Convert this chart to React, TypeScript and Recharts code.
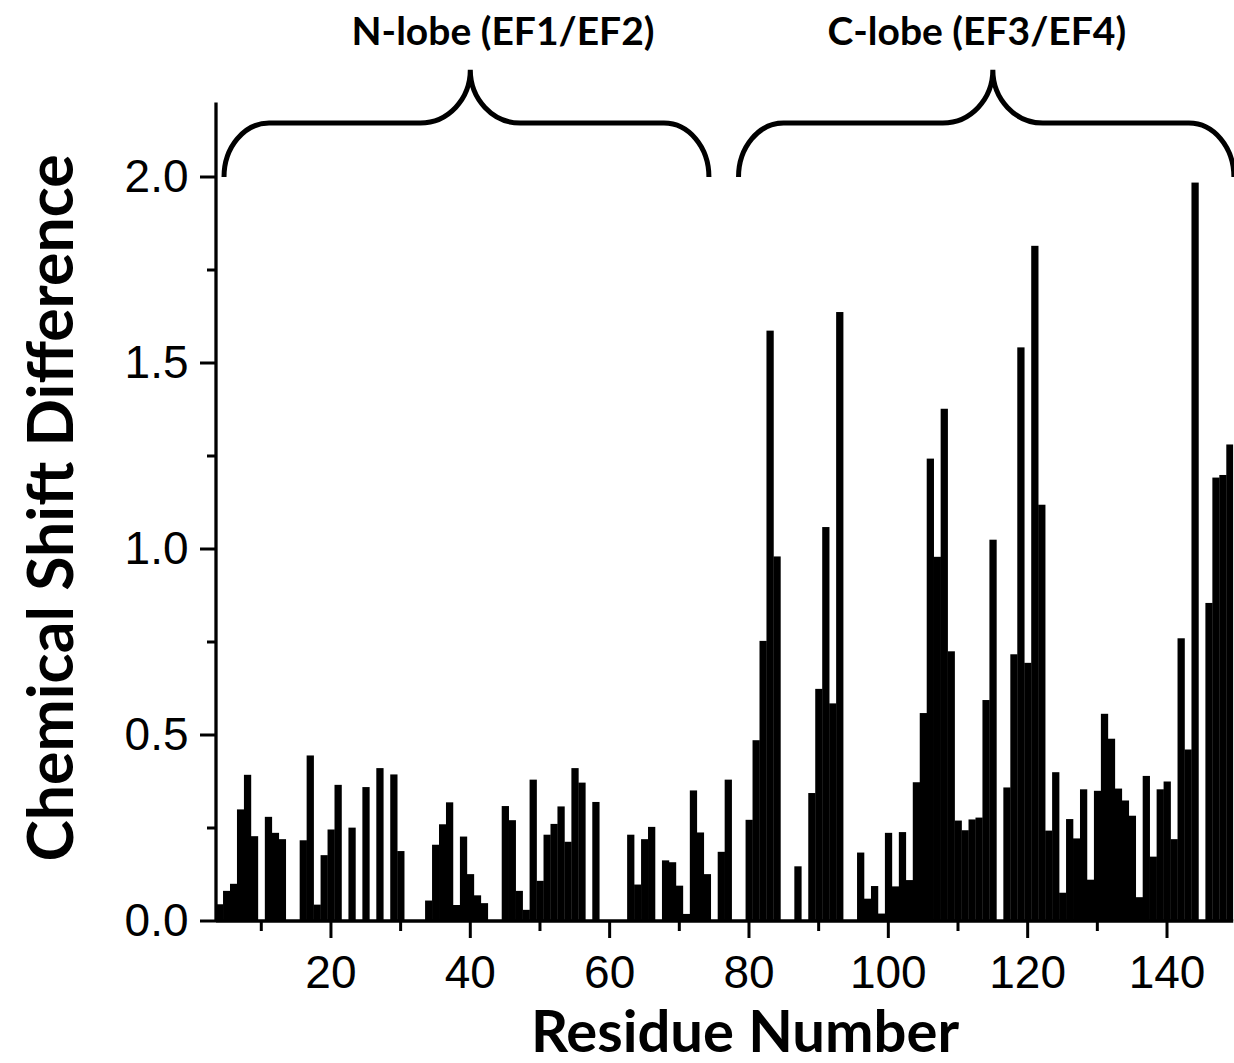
import { BarChart, Bar, XAxis, YAxis, Customized } from "recharts";

// residues with a measured shift (unassigned residues are simply absent)
const residues = [
  4, 5, 6, 7, 8, 9, 11, 12, 13, 16, 17, 18, 19, 20, 21, 23, 25, 27, 29, 30,
  34, 35, 36, 37, 38, 39, 40, 41, 42, 45, 46, 47, 48, 49, 50, 51, 52, 53, 54,
  55, 56, 58, 63, 64, 65, 66, 68, 69, 70, 71, 72, 73, 74, 76, 77,
  80, 81, 82, 83, 84, 87, 89, 90, 91, 92, 93, 96, 97, 98, 99, 100, 101, 102,
  103, 104, 105, 106, 107, 108, 109, 110, 111, 112, 113, 114, 115, 117, 118,
  119, 120, 121, 122, 123, 124, 125, 126, 127, 128, 129, 130, 131, 132, 133,
  134, 135, 136, 137, 138, 139, 140, 141, 142, 143, 144, 146, 147, 148, 149,
];

const shifts = [
  0.045, 0.081, 0.1, 0.3, 0.393, 0.228, 0.28, 0.237, 0.22, 0.217, 0.445, 0.044,
  0.177, 0.246, 0.366, 0.251, 0.36, 0.411, 0.394, 0.188,
  0.055, 0.205, 0.26, 0.319, 0.043, 0.227, 0.126, 0.069, 0.048, 0.309, 0.271,
  0.081, 0.03, 0.38, 0.108, 0.232, 0.261, 0.308, 0.213,
  0.411, 0.372, 0.32, 0.232, 0.098, 0.22, 0.253, 0.163, 0.158, 0.095, 0.019,
  0.351, 0.238, 0.126, 0.186, 0.38,
  0.272, 0.486, 0.753, 1.587, 0.98, 0.147, 0.344, 0.624, 1.059, 0.585, 1.637,
  0.184, 0.06, 0.094, 0.02, 0.237, 0.093, 0.239,
  0.11, 0.373, 0.559, 1.243, 0.979, 1.377, 0.725, 0.27, 0.244, 0.273, 0.278,
  0.594, 1.025, 0.359, 0.717,
  1.542, 0.694, 1.815, 1.119, 0.243, 0.4, 0.076, 0.274, 0.222, 0.354, 0.111,
  0.35, 0.557, 0.49, 0.356,
  0.324, 0.283, 0.064, 0.39, 0.173, 0.354, 0.375, 0.22, 0.76, 0.461, 1.985,
  0.855, 1.192, 1.199, 1.281,
];

const xTicks = [10, 20, 30, 40, 50, 60, 70, 80, 90, 100, 110, 120, 130, 140];
const yTicks = [0, 0.25, 0.5, 0.75, 1, 1.25, 1.5, 1.75, 2];

// lobe annotations: [start residue, apex residue, end residue]
const lobeLabels = ["N-lobe (EF1/EF2)", "C-lobe (EF3/EF4)"];
const lobeSpans = [
  [4.65, 40, 74.25],
  [78.5, 115, 149.6],
];
const lobeLabelCenters = [44.7, 112.7];

const rows = residues.map((r, i) => ({ residue: r, shift: shifts[i] }));

const W = 1234;
const H = 1063;
const X_DOMAIN = [3.5, 149.5];
const Y_DOMAIN = [0, 2.2];
const PLOT = { left: 216, top: 102.6, right: 1233.2, bottom: 921 };
const STEP = (PLOT.right - PLOT.left) / (X_DOMAIN[1] - X_DOMAIN[0]);

const xOf = (r: number) => PLOT.left + (r - X_DOMAIN[0]) * STEP;
const yOf = (v: number) =>
  PLOT.bottom -
  ((v - Y_DOMAIN[0]) / (Y_DOMAIN[1] - Y_DOMAIN[0])) * (PLOT.bottom - PLOT.top);

const tickFont = "'Liberation Sans', Arial, sans-serif";
const titleFont = "Lato, 'Open Sans', sans-serif";

const XTick = (props: any) => {
  const { x, y, payload } = props;
  const major = payload.value % 20 === 0;
  return (
    <g>
      <line x1={x} x2={x} y1={y} y2={y + (major ? 17 : 10)} stroke="#000" strokeWidth={3} />
      {major && (
        <text x={x} y={y + 66.5} textAnchor="middle" fontSize={46} fontFamily={tickFont} fill="#000">
          {payload.value}
        </text>
      )}
    </g>
  );
};

const YTick = (props: any) => {
  const { x, y, payload } = props;
  const major = Math.abs(payload.value * 2 - Math.round(payload.value * 2)) < 1e-6;
  return (
    <g>
      <line x1={x} x2={x - (major ? 16 : 9)} y1={y} y2={y} stroke="#000" strokeWidth={3} />
      {major && (
        <text x={x - 27.5} y={y + 15} textAnchor="end" fontSize={46} fontFamily={tickFont} fill="#000">
          {payload.value.toFixed(1)}
        </text>
      )}
    </g>
  );
};

// full-width bar around the library's bar centre so neighbours touch
const ResidueBar = (props: any) => {
  const { x, y, width, height } = props;
  if (!height || height <= 0) return null;
  const cx = x + width / 2;
  const w = STEP + 0.3;
  return <rect x={cx - w / 2} y={y} width={w} height={height} fill="#000" />;
};

const bracePath = (a: number, p: number, b: number) => {
  const xl = xOf(a);
  const xp = xOf(p);
  const xr = xOf(b);
  const yEnd = yOf(2.0);
  const yLine = yOf(2.145);
  const yPeak = yOf(2.288);
  const rEnd = 45;
  const rPeak = 50;
  const ryEnd = yEnd - yLine;
  const ryPeak = yLine - yPeak;
  return [
    `M ${xl} ${yEnd}`,
    `A ${rEnd} ${ryEnd} 0 0 1 ${xl + rEnd} ${yLine}`,
    `L ${xp - rPeak} ${yLine}`,
    `A ${rPeak} ${ryPeak} 0 0 0 ${xp} ${yPeak}`,
    `A ${rPeak} ${ryPeak} 0 0 0 ${xp + rPeak} ${yLine}`,
    `L ${xr - rEnd} ${yLine}`,
    `A ${rEnd} ${ryEnd} 0 0 1 ${xr} ${yEnd}`,
  ].join(" ");
};

const Annotations = () => (
  <g>
    {lobeSpans.map(([a, p, b], i) => (
      <g key={i}>
        <path d={bracePath(a, p, b)} fill="none" stroke="#000" strokeWidth={5} />
        <text
          x={xOf(lobeLabelCenters[i])}
          y={45}
          textAnchor="middle"
          fontSize={39}
          fontWeight={700}
          fontFamily={titleFont}
          fill="#000"
        >
          {lobeLabels[i]}
        </text>
      </g>
    ))}
    <text
      x={745}
      y={1052}
      textAnchor="middle"
      fontSize={58}
      fontWeight={700}
      fontFamily={titleFont}
      fill="#000"
    >
      Residue Number
    </text>
    <text
      x={73}
      y={508}
      transform="rotate(-90 73 508)"
      textAnchor="middle"
      fontSize={62.5}
      fontWeight={700}
      fontFamily={titleFont}
      fill="#000"
    >
      Chemical Shift Difference
    </text>
  </g>
);

export default function App() {
  return (
    <div style={{ position: "absolute", left: 0, top: 0, width: W, height: H, background: "#fff" }}>
      <BarChart
        width={W}
        height={H}
        data={rows}
        margin={{ top: PLOT.top, right: W - PLOT.right, bottom: 0, left: 0 }}
      >
        <XAxis
          dataKey="residue"
          type="number"
          domain={X_DOMAIN}
          ticks={xTicks}
          interval={0}
          height={H - PLOT.bottom}
          tickSize={0}
          tickMargin={0}
          tickLine={false}
          tick={<XTick />}
          axisLine={{ stroke: "#000", strokeWidth: 3.3 }}
          allowDataOverflow
        />
        <YAxis
          domain={Y_DOMAIN}
          ticks={yTicks}
          interval={0}
          width={PLOT.left}
          tickSize={0}
          tickMargin={0}
          tickLine={false}
          tick={<YTick />}
          axisLine={{ stroke: "#000", strokeWidth: 3.3 }}
          allowDataOverflow
        />
        <Bar dataKey="shift" fill="#000" shape={<ResidueBar />} isAnimationActive={false} />
        <Customized component={<Annotations />} />
      </BarChart>
    </div>
  );
}
